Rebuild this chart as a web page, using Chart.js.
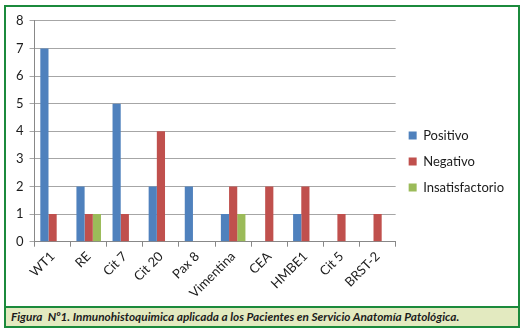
<!DOCTYPE html>
<html>
<head>
<meta charset="utf-8">
<script src="https://cdn.jsdelivr.net/npm/chart.js@4.4.1/dist/chart.umd.min.js"></script>
<style>
  html, body { margin: 0; padding: 0; background: #ffffff; }
  #frame {
    position: absolute; left: 4px; top: 5px; width: 512px; height: 319px;
    border: 2px solid #1b8a3c; background: #ffffff;
  }
  #chartBox { position: absolute; left: 0; top: 0; width: 512px; height: 299px; }
  #caption {
    position: absolute; left: 0; top: 299px; width: 512px; height: 20px;
    border-top: 2px solid #1b8a3c; box-sizing: border-box; background: #e3eac0;
    font-family: Lato, "Open Sans", sans-serif; font-style: italic; font-weight: bold;
    font-size: 11.8px; color: #1c1c1c; line-height: 17px; padding-left: 5px; white-space: nowrap;
  }
</style>
</head>
<body>
<div id="frame">
  <div id="chartBox"><canvas id="c" width="512" height="299"></canvas></div>
  <div id="caption">Figura&nbsp; Nº1. Inmunohistoquimica aplicada a los Pacientes en Servicio Anatomía Patológica.</div>
</div>
<script>
const categories = ["WT1", "RE", "Cit 7", "Cit 20", "Pax 8", "Vimentina", "CEA", "HMBE1", "Cit 5", "BRST-2"];
const positivo = [7, 2, 5, 2, 2, 1, 0, 1, 0, 0];
const negativo = [1, 1, 1, 4, 0, 2, 2, 2, 1, 1];
const insatisfactorio = [0, 1, 0, 0, 0, 1, 0, 0, 0, 0];
const seriesNames = ["Positivo", "Negativo", "Insatisfactorio"];
const yTicks = [0, 1, 2, 3, 4, 5, 6, 7, 8];

const font = { family: "Lato, 'Open Sans', sans-serif", size: 13 };

new Chart(document.getElementById('c'), {
  type: 'bar',
  data: {
    labels: categories,
    datasets: [
      { label: seriesNames[0], data: positivo, backgroundColor: '#4f81bd' },
      { label: seriesNames[1], data: negativo, backgroundColor: '#c0504d' },
      { label: seriesNames[2], data: insatisfactorio, backgroundColor: '#9bbb59' }
    ]
  },
  options: {
    responsive: false,
    animation: false,
    layout: { padding: { left: 4, right: 4, top: 13, bottom: 3 } },
    datasets: { bar: { categoryPercentage: 0.68, barPercentage: 1.0, borderWidth: 0 } },
    plugins: {
      tooltip: { enabled: false },
      legend: {
        position: 'right',
        align: 'center',
        labels: {
          font: font, color: '#1c1c1c', boxWidth: 8, boxHeight: 8, padding: 13
        }
      }
    },
    scales: {
      x: {
        grid: { drawOnChartArea: false, drawTicks: true, tickLength: 5, color: '#888888', offset: true },
        border: { color: '#888888' },
        ticks: { font: font, color: '#1c1c1c', minRotation: 45, maxRotation: 45, autoSkip: false, padding: 2 }
      },
      y: {
        min: 0, max: 8,
        afterBuildTicks: (axis) => { axis.ticks = yTicks.map(v => ({ value: v })); },
        grid: { color: '#a6a6a6', drawTicks: true, tickLength: 5 },
        border: { color: '#888888' },
        ticks: { font: font, color: '#1c1c1c', padding: 6 }
      }
    }
  }
});
</script>
</body>
</html>
